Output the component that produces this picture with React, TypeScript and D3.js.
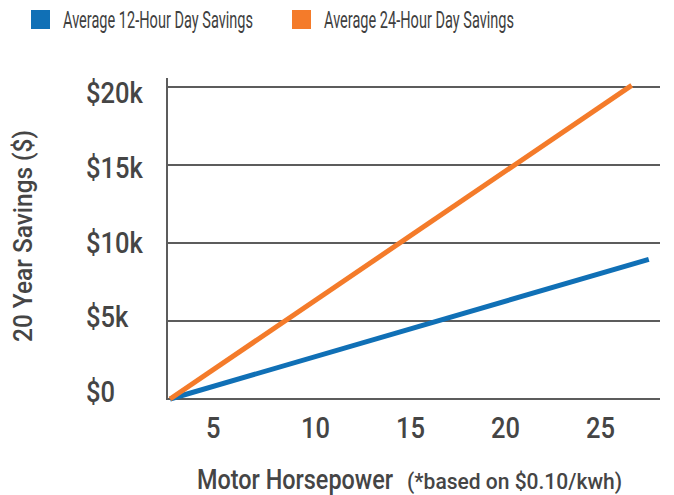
import React, { useLayoutEffect, useRef, useState } from "react";
import * as d3 from "d3";

// horsepower -> 20 year savings ($)
const hp12 = [3, 28.2];
const savings12 = [0, 8950];
const hp24 = [3, 27.3];
const savings24 = [0, 20100];

const xTicks = [5, 10, 15, 20, 25];
const yTicks = [0, 5000, 10000, 15000, 20000];
const yTickLabels = ["$0", "$5k", "$10k", "$15k", "$20k"];

const seriesNames = ["Average 12-Hour Day Savings", "Average 24-Hour Day Savings"];
const seriesColors = ["#1070b6", "#f47b2a"];

const W = 674;
const H = 495;
const FONT = "Roboto, 'Liberation Sans', sans-serif";
const TEXT = "#454545";
const GRID = "#5c5c5c";
const SQUEEZE = 0.88;
const LEGEND_TEXT_W = 190;

export default function App() {
  const legendRefs = useRef<(SVGTextElement | null)[]>([]);
  const [legendScale, setLegendScale] = useState([0.64, 0.64]);

  // squeeze the legend text to the reference width (condensed face)
  useLayoutEffect(() => {
    const s = legendRefs.current.map((el) => {
      const w = el ? el.getComputedTextLength() : 0;
      return w > 0 ? LEGEND_TEXT_W / w : 0.64;
    });
    setLegendScale(s);
  }, []);

  const x = d3.scaleLinear().domain([2.84, 28.79]).range([167, 660]);
  const y = d3.scaleLinear().domain([0, 20000]).range([399, 87]);
  // tick labels sit on a slightly tighter spacing than the gridlines
  const yLabel = d3.scaleLinear().domain([0, 20000]).range([402, 103]);

  const line = d3
    .line<[number, number]>()
    .x((d) => x(d[0]))
    .y((d) => y(d[1]));

  const series = [
    hp12.map((h, i) => [h, savings12[i]] as [number, number]),
    hp24.map((h, i) => [h, savings24[i]] as [number, number]),
  ];

  const legendX = [31, 292];

  return (
    <svg
      width={W}
      height={H}
      style={{ position: "absolute", left: 0, top: 0, background: "#fff" }}
      fontFamily={FONT}
    >
      {/* legend */}
      {seriesNames.map((name, i) => (
        <g key={name} transform={`translate(${legendX[i]},10)`}>
          <rect width={19} height={19} fill={seriesColors[i]} />
          <g transform={`translate(32,18) scale(${legendScale[i]},1)`}>
            <text
              ref={(el) => {
                legendRefs.current[i] = el;
              }}
              fontSize={23}
              fill="#3f3f3f"
            >
              {name}
            </text>
          </g>
        </g>
      ))}

      {/* gridlines */}
      {yTicks.map((t) => (
        <line
          key={t}
          x1={x.range()[0]}
          x2={x.range()[1]}
          y1={y(t)}
          y2={y(t)}
          stroke={GRID}
          strokeWidth={2}
        />
      ))}
      <line x1={167} x2={167} y1={78} y2={400} stroke={GRID} strokeWidth={2} />

      {/* y tick labels */}
      {yTicks.map((t, i) => (
        <g key={t} transform={`translate(86,${yLabel(t)}) scale(${SQUEEZE},1)`}>
          <text fontSize={29} fontWeight={500} fill={TEXT}>
            {yTickLabels[i]}
          </text>
        </g>
      ))}

      {/* x tick labels, left edge at the tick */}
      {xTicks.map((t) => (
        <g key={t} transform={`translate(${x(t) - 2},438) scale(${SQUEEZE},1)`}>
          <text fontSize={29} fontWeight={500} fill={TEXT}>
            {t}
          </text>
        </g>
      ))}

      {/* lines */}
      {series.map((s, i) => (
        <path key={i} d={line(s) || ""} fill="none" stroke={seriesColors[i]} strokeWidth={5} />
      ))}

      {/* axis titles */}
      <text
        transform="translate(32,236) rotate(-90)"
        fontSize={25}
        fontWeight={500}
        fill={TEXT}
        textAnchor="middle"
        textLength={212}
        lengthAdjust="spacingAndGlyphs"
      >
        20 Year Savings ($)
      </text>
      <text
        x={197}
        y={489}
        fontSize={27}
        fontWeight={500}
        fill={TEXT}
        textLength={196}
        lengthAdjust="spacingAndGlyphs"
      >
        Motor Horsepower
      </text>
      <text
        x={407}
        y={489}
        fontSize={22}
        fontWeight={500}
        fill={TEXT}
        textLength={215}
        lengthAdjust="spacingAndGlyphs"
      >
        (*based on $0.10/kwh)
      </text>
    </svg>
  );
}
